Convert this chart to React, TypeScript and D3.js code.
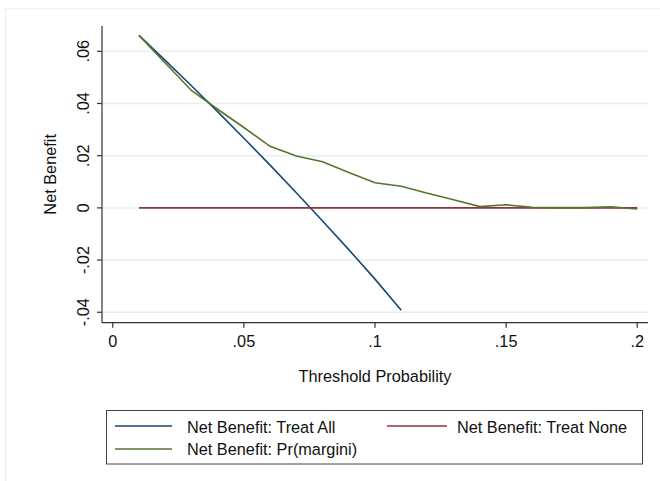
import React from 'react';
import * as d3 from 'd3';

// threshold probabilities (x) for each series
const thresholds = [0.01, 0.02, 0.03, 0.04, 0.05, 0.06, 0.07, 0.08, 0.09, 0.1, 0.11, 0.12, 0.13, 0.14, 0.15, 0.16, 0.17, 0.18, 0.19, 0.2];
const treatAll = [0.0661, 0.0565, 0.0468, 0.0369, 0.0267, 0.0164, 0.0058, -0.005, -0.016, -0.0273, -0.0392];
const treatNone = [0, 0, 0, 0, 0, 0, 0, 0, 0, 0, 0, 0, 0, 0, 0, 0, 0, 0, 0, 0];
const model = [0.0661, 0.0555, 0.045, 0.0378, 0.0308, 0.0236, 0.0199, 0.0177, 0.0136, 0.0096, 0.0083, 0.0056, 0.0031, 0.0005, 0.0012, 0.0002, 0.0001, 0.0001, 0.0004, -0.0004];

const xTicks = [0, 0.05, 0.1, 0.15, 0.2];
const xTickLabels = ['0', '.05', '.1', '.15', '.2'];
const yTicks = [-0.04, -0.02, 0, 0.02, 0.04, 0.06];
const yTickLabels = ['-.04', '-.02', '0', '.02', '.04', '.06'];

const seriesNames = ['Net Benefit: Treat All', 'Net Benefit: Treat None', 'Net Benefit: Pr(margini)'];
const colors = ['#1a476f', '#90353b', '#55752f'];

const font = 'Liberation Sans, Arial, Helvetica, sans-serif';
const fs = 16.3;

export default function App() {
  const width = 660;
  const height = 481;

  const x = d3.scaleLinear().domain([-0.0041, 0.2041]).range([102, 648]);
  const y = d3.scaleLinear().domain([-0.044, 0.0697]).range([322.7, 26]);

  const line = d3.line<[number, number]>()
    .x(d => x(d[0]))
    .y(d => y(d[1]));

  const series = [treatAll, treatNone, model].map(vals =>
    vals.map((v, i) => [thresholds[i], v] as [number, number])
  );

  const [x0, x1] = x.range();
  const [yb, yt] = y.range();

  return (
    <svg width={width} height={height} style={{ position: 'absolute', left: 0, top: 0, background: '#fff' }}
      fontFamily={font}>
      {/* faint outer graph region border */}
      <rect x={5.5} y={8.5} width={700} height={500} fill="none" stroke="#eef1f1" strokeWidth={1.5} />

      {/* gridlines */}
      {yTicks.map(t => (
        <line key={'g' + t} x1={x0} x2={x1} y1={y(t)} y2={y(t)} stroke="#e8eff1" strokeWidth={1.5} />
      ))}

      {/* series */}
      {series.map((s, i) => (
        <path key={i} d={line(s) || ''} fill="none" stroke={colors[i]} strokeWidth={1.6} />
      ))}

      {/* y axis */}
      <line x1={x0} x2={x0} y1={yt} y2={yb} stroke="#333" strokeWidth={1.2} />
      {yTicks.map((t, i) => (
        <g key={'y' + t}>
          <line x1={x0 - 5} x2={x0} y1={y(t)} y2={y(t)} stroke="#333" strokeWidth={1.2} />
          <text transform={`translate(88.5,${y(t)}) rotate(-90)`} textAnchor="middle" fontSize={fs} fill="#111">
            {yTickLabels[i]}
          </text>
        </g>
      ))}
      <text transform={`translate(55.5,${(yt + yb) / 2}) rotate(-90)`} textAnchor="middle" fontSize={fs} fill="#111">
        Net Benefit
      </text>

      {/* x axis */}
      <line x1={x0} x2={x1} y1={yb} y2={yb} stroke="#333" strokeWidth={1.2} />
      {xTicks.map((t, i) => (
        <g key={'x' + t}>
          <line x1={x(t)} x2={x(t)} y1={yb} y2={yb + 5} stroke="#333" strokeWidth={1.2} />
          <text x={x(t)} y={346.5} textAnchor="middle" fontSize={fs} fill="#111">
            {xTickLabels[i]}
          </text>
        </g>
      ))}
      <text x={(x0 + x1) / 2} y={382} textAnchor="middle" fontSize={fs} fill="#111">
        Threshold Probability
      </text>

      {/* legend */}
      <rect x={106.5} y={410.5} width={536} height={53.5} fill="#fff" stroke="#444" strokeWidth={1} />
      <line x1={115} x2={172} y1={426} y2={426} stroke={colors[0]} strokeWidth={1.6} />
      <text x={187} y={432.5} fontSize={fs} fill="#111">{seriesNames[0]}</text>
      <line x1={387} x2={447} y1={426} y2={426} stroke={colors[1]} strokeWidth={1.6} />
      <text x={457} y={432.5} fontSize={fs} fill="#111">{seriesNames[1]}</text>
      <line x1={115} x2={172} y1={449} y2={449} stroke={colors[2]} strokeWidth={1.6} />
      <text x={187} y={455} fontSize={fs} fill="#111">{seriesNames[2]}</text>
    </svg>
  );
}
